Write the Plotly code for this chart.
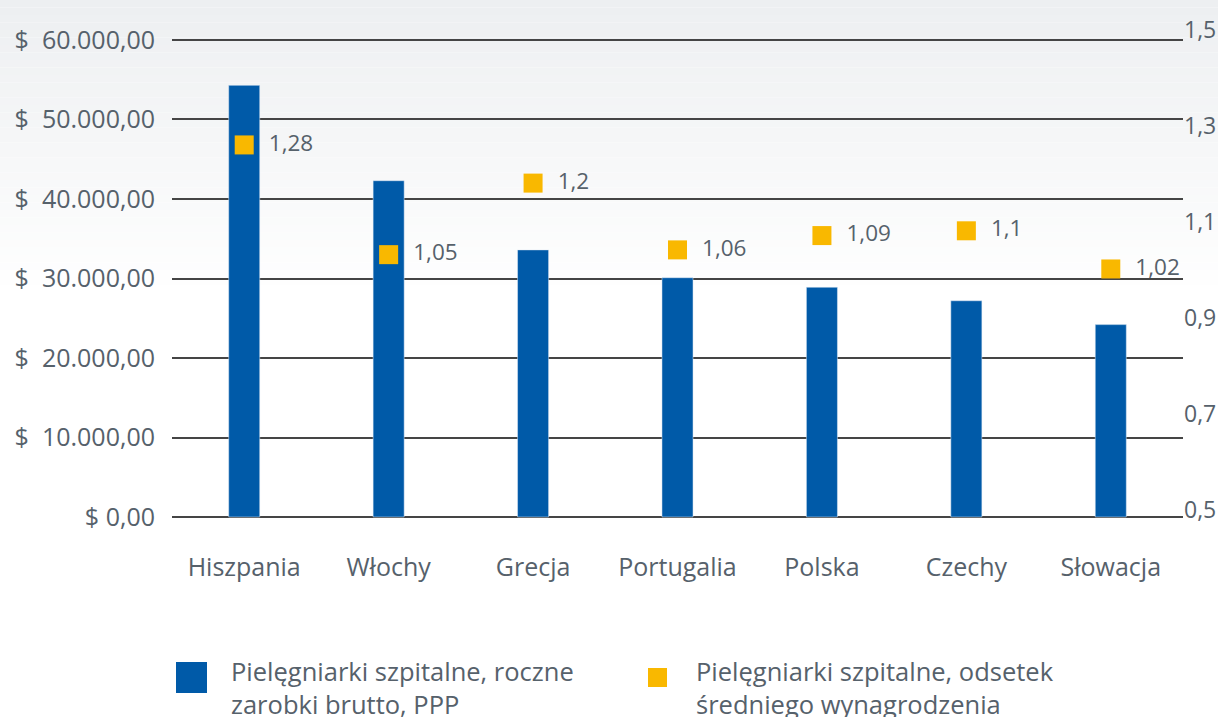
import plotly.graph_objects as go

# Data
countries = ["Hiszpania", "Włochy", "Grecja", "Portugalia", "Polska", "Czechy", "Słowacja"]
earnings_ppp = [54300, 42300, 33600, 30100, 28900, 27200, 24200]
wage_ratio = [1.28, 1.05, 1.2, 1.06, 1.09, 1.1, 1.02]
ratio_labels = ["1,28", "1,05", "1,2", "1,06", "1,09", "1,1", "1,02"]

left_ticks = [0, 10000, 20000, 30000, 40000, 50000, 60000]
left_ticktext = ["$ 0,00"] + ["$\u00a0\u00a0" + f"{v:,.0f}".replace(",", ".") + ",00" for v in left_ticks[1:]]
right_ticks = [0.5, 0.7, 0.9, 1.1, 1.3, 1.5]
right_ticktext = ["0,5", "0,7", "0,9", "1,1", "1,3", "1,5"]

legend_names = ["Pielęgniarki szpitalne, roczne<br>zarobki brutto, PPP",
                "Pielęgniarki szpitalne, odsetek<br>średniego wynagrodzenia"]

BLUE = "#005aa8"
YELLOW = "#f9b800"
TEXT = "#56616b"
GRID = "#454545"
FONT = "Open Sans, sans-serif"

W, H = 1218, 717
ML, MR, MT, MB = 172, 35, 20, 190
PW, PH = W - ML - MR, H - MT - MB


def px_x(p):
    return (p - ML) / PW


def px_y(p):
    return (H - MB - p) / PH


# money scale: 0 sits at y=517 px, 60 000 at y=40 px; a little headroom
# keeps the outermost gridlines from being clipped
Y0_PX, YTOP_PX = 517, 40
LEFT_RANGE = [-300, 60300]
scale = (Y0_PX - YTOP_PX) / 60000.0
main_dom = [px_y(Y0_PX - LEFT_RANGE[0] * scale), px_y(Y0_PX - LEFT_RANGE[1] * scale)]
ratio_range = [0.5 + LEFT_RANGE[0] / 60000.0, 0.5 + LEFT_RANGE[1] / 60000.0]
label_dom = [px_y(510), px_y(30)]

fig = go.Figure()

fig.add_trace(go.Bar(
    x=countries, y=earnings_ppp, marker_color=BLUE, width=0.215,
    name="earnings", showlegend=False, hoverinfo="x+y",
))
fig.add_trace(go.Scatter(
    x=countries, y=wage_ratio, yaxis="y2", mode="markers+text",
    marker=dict(symbol="square", size=19, color=YELLOW),
    text=["\u00a0\u00a0" + t for t in ratio_labels], textposition="middle right",
    textfont=dict(family=FONT, size=22.5, color=TEXT),
    name="ratio", showlegend=False, cliponaxis=False,
))
# carrier for the right-hand ratio scale
fig.add_trace(go.Scatter(x=[], y=[], yaxis="y3", showlegend=False, hoverinfo="skip"))

# soft grey-to-white backdrop
shapes = []
n_bands = 40
top_rgb = (237, 239, 241)
for i in range(n_bands):
    t = i / (n_bands - 1)
    c = tuple(int(round(a + (255 - a) * t)) for a in top_rgb)
    y0 = i * 300 / n_bands
    y1 = (i + 1) * 300 / n_bands
    shapes.append(dict(
        type="rect", xref="paper", yref="paper", layer="below",
        x0=px_x(-5), x1=px_x(W + 5), y0=px_y(y1), y1=px_y(y0 - (5 if i == 0 else 0)),
        fillcolor=f"rgb{c}", line_width=0,
    ))

# legend keys
shapes.append(dict(type="rect", xref="paper", yref="paper",
                   x0=px_x(176), x1=px_x(207), y0=px_y(693), y1=px_y(662),
                   fillcolor=BLUE, line_width=0))
shapes.append(dict(type="rect", xref="paper", yref="paper",
                   x0=px_x(648), x1=px_x(667), y0=px_y(687), y1=px_y(668),
                   fillcolor=YELLOW, line_width=0))

annotations = [
    dict(xref="paper", yref="paper", x=px_x(229), y=px_y(652), xanchor="left", yanchor="top",
         text=legend_names[0], showarrow=False, align="left",
         font=dict(family=FONT, size=25.5, color=TEXT)),
    dict(xref="paper", yref="paper", x=px_x(694), y=px_y(652), xanchor="left", yanchor="top",
         text=legend_names[1], showarrow=False, align="left",
         font=dict(family=FONT, size=25.5, color=TEXT)),
]

fig.update_layout(
    width=W, height=H,
    margin=dict(l=ML, r=MR, t=MT, b=MB, autoexpand=False),
    paper_bgcolor="white", plot_bgcolor="rgba(0,0,0,0)",
    showlegend=False,
    font=dict(family=FONT, size=23, color=TEXT),
    separators=",.",
    shapes=shapes, annotations=annotations,
    xaxis=dict(
        domain=[0, 1], anchor="y", showgrid=False, showline=False, ticks="",
        tickfont=dict(size=25, color=TEXT), ticklabelstandoff=31, automargin=False,
    ),
    yaxis=dict(
        domain=main_dom, range=LEFT_RANGE, tickvals=left_ticks, ticktext=left_ticktext,
        showgrid=True, gridcolor=GRID, gridwidth=1.5, zeroline=False,
        showline=False, ticks="", ticklabelstandoff=16, automargin=False,
        tickfont=dict(size=25, color=TEXT),
    ),
    yaxis2=dict(
        overlaying="y", side="right", range=ratio_range, visible=False, automargin=False,
    ),
    yaxis3=dict(
        anchor="x", side="right", domain=label_dom, range=[0.5, 1.5],
        tickvals=right_ticks, ticktext=right_ticktext, showgrid=False,
        zeroline=False, showline=False, ticks="", ticklabelstandoff=0, automargin=False,
        tickfont=dict(size=23, color=TEXT),
    ),
)

fig.write_html("out.html")
